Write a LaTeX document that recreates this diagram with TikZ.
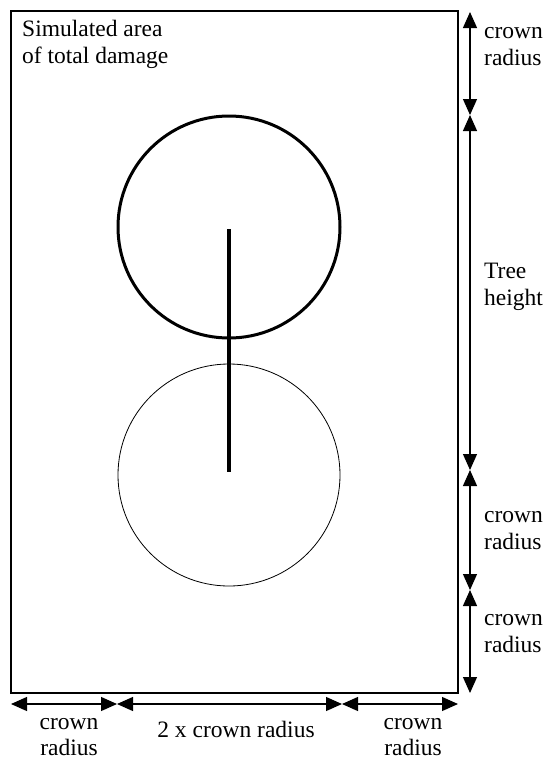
\documentclass[tikz,border=0pt]{standalone}
\usepackage{fontspec}
\setmainfont{Liberation Serif}
\usetikzlibrary{arrows.meta}
\begin{document}
\begin{tikzpicture}[x=1pt,y=-1pt,
  lbl/.style={font=\fontsize{23.5}{27}\selectfont, align=left, inner sep=0pt},
  lblc/.style={font=\fontsize{23.5}{26}\selectfont, align=center, inner sep=0pt},
  dim/.style={line width=1.2pt, {Triangle[length=16pt,width=14pt]}-{Triangle[length=16pt,width=14pt]}, shorten <=0pt, shorten >=0pt}]
\useasboundingbox (0,0) rectangle (545,764);
% area rectangle
\node[draw, line width=1.5pt, minimum width=447pt, minimum height=682pt, inner sep=0pt] (area) at (234.5,352) {};
% circles
\node[draw, circle, line width=3pt, minimum size=222pt, inner sep=0pt] (top) at (229,227) {};
\node[draw, circle, line width=0.8pt, minimum size=222pt, inner sep=0pt] (bot) at (229,475) {};
% stem
\coordinate (s1) at (229,229);
\coordinate (s2) at (229,472);
\draw[line width=3.5pt] (s1) -- (s2);
% label
\node[lbl, anchor=north west] (title) at (22,20) {Simulated area\\of total damage};
% right dimensions
\coordinate (r0) at (470,12);
\coordinate (r1) at (470,115);
\coordinate (r2) at (470,470);
\coordinate (r3) at (470,590);
\coordinate (r4) at (470,693);
\draw[dim] (r0) -- (r1);
\draw[dim] (r1) -- (r2);
\draw[dim] (r2) -- (r3);
\draw[dim] (r3) -- (r4);
\node[lbl, anchor=west] (t1) at (484,47) {crown\\radius};
\node[lbl, anchor=west] (t2) at (484,287) {Tree\\height};
\node[lbl, anchor=west] (t3) at (484,531) {crown\\radius};
\node[lbl, anchor=west] (t4) at (484,634) {crown\\radius};
% bottom dimensions
\coordinate (b0) at (11,704);
\coordinate (b1) at (117,704);
\coordinate (b2) at (342,704);
\coordinate (b3) at (458,704);
\draw[dim] (b0) -- (b1);
\draw[dim] (b1) -- (b2);
\draw[dim] (b2) -- (b3);
\node[lblc] (u1) at (69,737) {crown\\radius};
\node[lblc] (u2) at (236,729) {2 x crown radius};
\node[lblc] (u3) at (413,737) {crown\\radius};
\end{tikzpicture}
\end{document}
